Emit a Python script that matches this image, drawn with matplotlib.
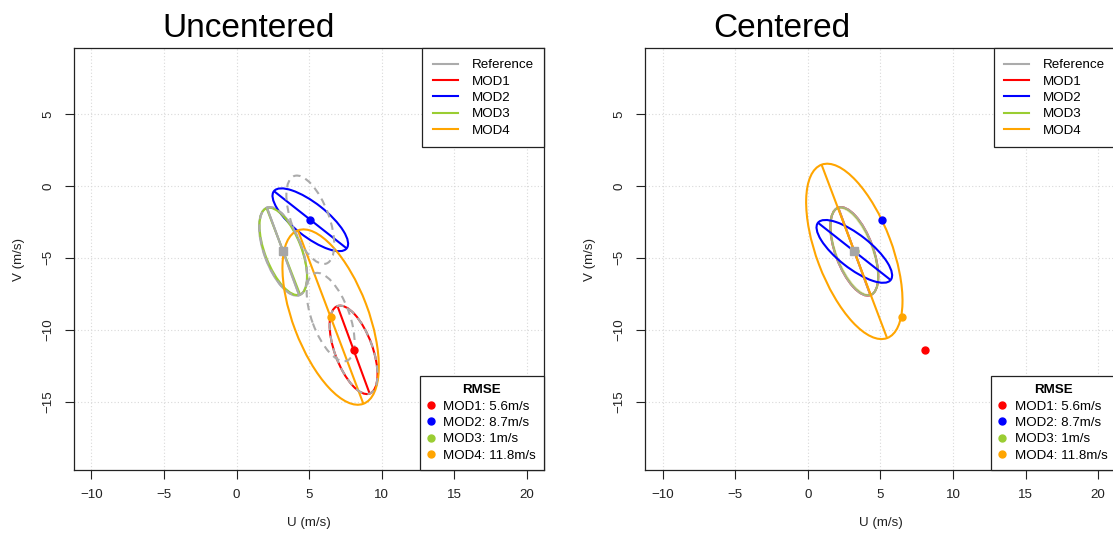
import numpy as np
import matplotlib
matplotlib.use('Agg')
import matplotlib.pyplot as plt
from matplotlib.patches import Ellipse
from matplotlib.lines import Line2D

plt.rcParams['font.family'] = ['Liberation Sans', 'DejaVu Sans']

# ---------------- data ----------------
models = ['MOD1', 'MOD2', 'MOD3', 'MOD4']
model_colors = ['#FF0000', '#0000FF', '#9ACD32', '#FFA500']
u_mean = [8.06, 5.08, 3.22, 6.48]
v_mean = [-11.40, -2.35, -4.55, -9.12]
semi_major = [3.24, 3.20, 3.22, 6.44]
semi_minor = [1.30, 1.15, 1.25, 2.60]
angle_deg = [-70.0, -38.5, -69.0, -69.5]
rmse = ['5.6', '8.7', '1', '11.8']

ref_name = 'Reference'
ref_color = '#ABABAB'
ref_u, ref_v = 3.20, -4.55
ref_a, ref_b, ref_angle = 3.24, 1.30, -70.0

xticks = [-10, -5, 0, 5, 10, 15, 20]
yticks = [-15, -10, -5, 0, 5]
xlim = (-11.2, 21.2)
ylim = (-19.76, 9.58)

# ---------------- figure ----------------
W, H = 1113, 537
fig = plt.figure(figsize=(W / 100, H / 100), dpi=100)
FS = 9.6


def px_axes(left, top, right, bottom):
    return fig.add_axes([left / W, 1 - bottom / H, (right - left) / W, (bottom - top) / H])


axL = px_axes(74, 48.3, 544.3, 470)
axR = px_axes(645.3, 48.3, 1115.6, 470)

LW = 1.5
DASH = (0, (3.6, 2.6))


def draw_ell(ax, cx, cy, a, b, ang, color, ls='-', z=3, axis=True, alpha=1.0):
    e = Ellipse((cx, cy), 2 * a, 2 * b, angle=ang, fill=False, ec=color,
                lw=LW, ls=ls, zorder=z, alpha=alpha)
    ax.add_patch(e)
    if axis:
        t = np.deg2rad(ang)
        dx, dy = a * np.cos(t), a * np.sin(t)
        ax.plot([cx - dx, cx + dx], [cy - dy, cy + dy], color=color, lw=LW,
                ls=ls, zorder=z, alpha=alpha, solid_capstyle='butt')


def style_axes(ax):
    ax.set_xlim(*xlim)
    ax.set_ylim(*ylim)
    ax.set_xticks(xticks)
    ax.set_yticks(yticks)
    ax.grid(True, color='#D9D9D9', ls=(0, (1, 2)), lw=0.8, zorder=0)
    for s in ax.spines.values():
        s.set_linewidth(0.9)
        s.set_color('#222222')
    ax.tick_params(axis='x', direction='out', length=6.5, width=0.8,
                   labelsize=FS, pad=7.5, colors='#222222')
    ax.tick_params(axis='y', direction='out', length=6.5, width=0.8,
                   labelsize=FS, pad=7.5, labelrotation=90, colors='#222222')
    for lab in ax.get_yticklabels():
        lab.set_va('center')


def add_legends(ax):
    handles = [Line2D([], [], color=ref_color, lw=LW)] + \
              [Line2D([], [], color=c, lw=LW) for c in model_colors]
    labels = [ref_name] + models
    leg1 = ax.legend(handles, labels, loc='upper right', borderaxespad=0,
                     fancybox=False, edgecolor='#222222', framealpha=1,
                     fontsize=FS, handlelength=1.88, handletextpad=1.0,
                     labelspacing=0.3, borderpad=0.8)
    leg1.get_frame().set_linewidth(0.9)
    leg1.set_zorder(10)
    ax.add_artist(leg1)
    h2 = [Line2D([], [], marker='o', ls='none', color=c, ms=5) for c in model_colors]
    l2 = [f'{m}: {r}m/s' for m, r in zip(models, rmse)]
    leg2 = ax.legend(h2, l2, loc='lower right', borderaxespad=0,
                     fancybox=False, edgecolor='#222222', framealpha=1,
                     fontsize=FS, handlelength=0.5, handletextpad=0.66,
                     labelspacing=0.3, borderpad=0.62, title='RMSE',
                     title_fontproperties={'weight': 'bold', 'size': FS})
    leg2.get_frame().set_linewidth(0.9)
    leg2.set_zorder(10)


# ---------------- Uncentered ----------------
style_axes(axL)
draw_ell(axL, ref_u, ref_v, ref_a, ref_b, ref_angle, ref_color, z=2)
for i, m in enumerate(models):
    draw_ell(axL, u_mean[i], v_mean[i], semi_major[i], semi_minor[i],
             angle_deg[i], model_colors[i], z=3)
    # reference ellipse shifted to the model mean
    draw_ell(axL, u_mean[i], v_mean[i], ref_a, ref_b, ref_angle, ref_color,
             ls=DASH, z=4, axis=False)
# reference axis on top
t = np.deg2rad(ref_angle)
axL.plot([ref_u - ref_a * np.cos(t), ref_u + ref_a * np.cos(t)],
         [ref_v - ref_a * np.sin(t), ref_v + ref_a * np.sin(t)],
         color=ref_color, lw=LW, zorder=4)
for i in range(len(models)):
    axL.plot(u_mean[i], v_mean[i], 'o', color=model_colors[i], ms=5, zorder=6)
axL.plot(ref_u, ref_v, 's', color='#A6A6A6', ms=5.5, zorder=7)
add_legends(axL)

# ---------------- Centered ----------------
style_axes(axR)
draw_ell(axR, ref_u, ref_v, semi_major[0], semi_minor[0], angle_deg[0],
         model_colors[0], z=2)
draw_ell(axR, ref_u, ref_v, ref_a, ref_b, ref_angle, ref_color, z=3)
draw_ell(axR, ref_u, ref_v, semi_major[2], semi_minor[2], angle_deg[2],
         model_colors[2], z=3.5, axis=False, alpha=0.45)
for i in [1, 3]:
    draw_ell(axR, ref_u, ref_v, semi_major[i], semi_minor[i], angle_deg[i],
             model_colors[i], z=4)
for i in range(len(models)):
    axR.plot(u_mean[i], v_mean[i], 'o', color=model_colors[i], ms=5, zorder=6)
axR.plot(ref_u, ref_v, 's', color='#A6A6A6', ms=5.5, zorder=7)
add_legends(axR)

# ---------------- titles and labels ----------------
fig.text(249 / W, 1 - 37 / H, 'Uncentered', fontsize=24, ha='center', va='baseline')
fig.text(782 / W, 1 - 37 / H, 'Centered', fontsize=24, ha='center', va='baseline')
for ax_left, ax_right in [(74, 544.3), (645.3, 1115.6)]:
    fig.text((ax_left + ax_right) / 2 / W, 1 - 523 / H, 'U (m/s)', fontsize=FS,
             ha='center', va='center', color='#222222')
    fig.text((ax_left - 55) / W, 1 - 259 / H, 'V (m/s)', fontsize=FS,
             ha='center', va='center', rotation=90, color='#222222')

fig.savefig('out.png', dpi=100)
